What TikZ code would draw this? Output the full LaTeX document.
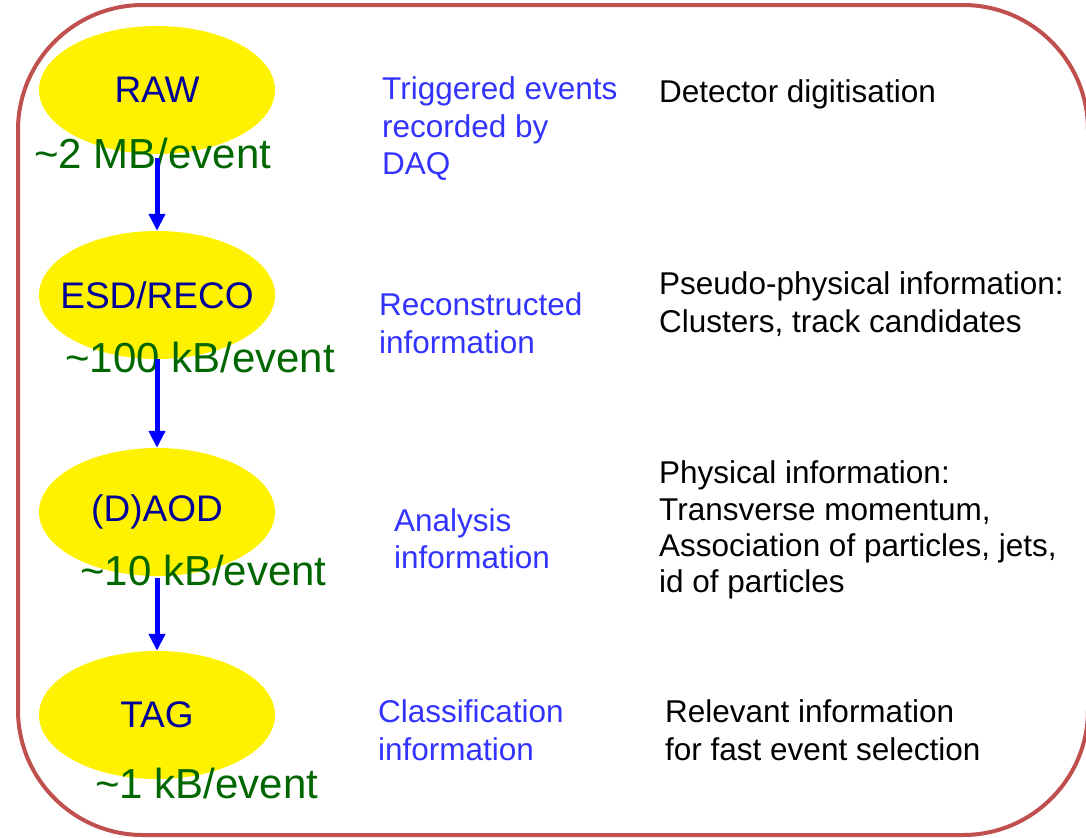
\documentclass[tikz,border=0pt]{standalone}
\usepackage{fontspec}
\setmainfont{Liberation Sans}
\usetikzlibrary{shapes.geometric,arrows.meta}
\definecolor{framered}{HTML}{C0504D}
\definecolor{stagetext}{HTML}{000099}
\definecolor{sizegreen}{HTML}{006600}
\definecolor{descblue}{HTML}{3333FF}
\definecolor{flowblue}{HTML}{0000FF}
\tikzset{
  stage/.style={ellipse, fill=yellow, minimum width=236bp, minimum height=128bp,
    inner xsep=-15bp, inner ysep=0pt, text=stagetext,
    font=\fontsize{37bp}{41bp}\selectfont},
  sizelabel/.style={anchor=base west, inner sep=0pt, text=sizegreen,
    font=\fontsize{42bp}{46bp}\selectfont},
  desc/.style={anchor=base west, inner sep=0pt, text=descblue,
    font=\fontsize{31.5bp}{37bp}\selectfont},
  detail/.style={anchor=base west, inner sep=0pt, text=black,
    font=\fontsize{31.5bp}{37bp}\selectfont},
  flow/.style={draw=flowblue, line width=5bp, -{Triangle[width=16bp,length=17bp]}}
}
\begin{document}
\begin{tikzpicture}[x=1bp,y=-1bp]
\useasboundingbox (0,0) rectangle (1086,838);
% outer frame
\draw[framered, line width=4bp, rounded corners=125bp] (18,5) rectangle (1088,835);

% data tiers
\node[stage] (raw) at (157,90)  {RAW};
\node[stage] (esd) at (157,295) {ESD/RECO};
\node[stage] (aod) at (157,512) {(D)AOD};
\node[stage] (tag) at (157,715) {TAG};

% event sizes
\node[sizelabel] (sraw) at (34,168) {\textasciitilde 2 MB/event};
\node[sizelabel] (sesd) at (65,372) {\textasciitilde 100 kB/event};
\node[sizelabel] (saod) at (80,585) {\textasciitilde 10 kB/event};
\node[sizelabel] (stag) at (95,798) {\textasciitilde 1 kB/event};

% processing chain
\draw[flow, shorten <=4bp] (raw) -- (esd);
\draw[flow] (esd) -- (aod);
\draw[flow, shorten <=2bp] (aod) -- (tag);

% tier descriptions
\node[desc] (d1a) at (382,99)  {Triggered events};
\node[desc] (d1b) at (382,137) {recorded by};
\node[desc] (d1c) at (382,174) {DAQ};
\node[desc] (d2a) at (379,315) {Reconstructed};
\node[desc] (d2b) at (379,353) {information};
\node[desc] (d3a) at (394,531) {Analysis};
\node[desc] (d3b) at (394,568) {information};
\node[desc] (d4a) at (378,722) {Classification};
\node[desc] (d4b) at (378,760) {information};

% content of each tier
\node[detail] (c1a) at (659,102) {Detector digitisation};
\node[detail] (c2a) at (659,294) {Pseudo-physical information:};
\node[detail] (c2b) at (659,332) {Clusters, track candidates};
\node[detail] (c3a) at (659,483) {Physical information:};
\node[detail] (c3b) at (659,520) {Transverse momentum,};
\node[detail] (c3c) at (659,556) {Association of particles, jets,};
\node[detail] (c3d) at (659,592) {id of particles};
\node[detail] (c4a) at (665,722) {Relevant information};
\node[detail] (c4b) at (665,760) {for fast event selection};
\end{tikzpicture}
\end{document}
